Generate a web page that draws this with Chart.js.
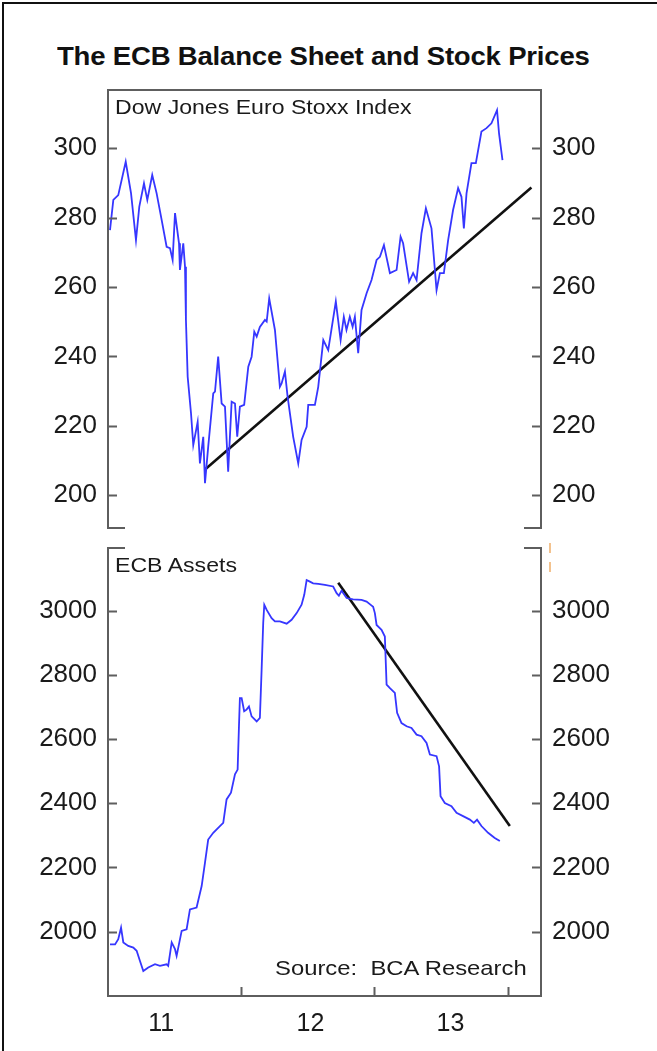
<!DOCTYPE html>
<html>
<head>
<meta charset="utf-8">
<script src="https://cdn.jsdelivr.net/npm/chart.js@4.4.1/dist/chart.umd.min.js"></script>
<style>
  html, body { margin: 0; padding: 0; background: #fff; width: 657px; height: 1051px; overflow: hidden; }
  #wrap { position: relative; width: 657px; height: 1051px; font-family: "Liberation Sans", Arial, sans-serif; }
  #outer { position: absolute; left: 2px; top: 2px; width: 700px; height: 1100px; border: 2px solid #111; }
  canvas { position: absolute; left: 0; }
  .txt { position: absolute; white-space: nowrap; color: #1a1a1a; transform-origin: left center; }
  #title { left: 57px; top: 41px; font-size: 26px; font-weight: bold; color: #111; transform: scaleX(1.06); letter-spacing: -0.2px; }
  #lab1 { left: 115px; top: 95px; font-size: 21px; transform: scaleX(1.1); }
  #lab2 { left: 115px; top: 553px; font-size: 21px; transform: scaleX(1.1); }
  #src { left: 275px; top: 956px; font-size: 21px; transform: scaleX(1.135); }
  .orange { position: absolute; left: 549px; width: 2px; height: 10px; background: #f3c28e; }
</style>
</head>
<body>
<div id="wrap">
  <div id="outer"></div>
  <canvas id="c1" width="657" height="470" style="top:80px"></canvas>
  <canvas id="c2" width="657" height="513" style="top:538px"></canvas>
  <div class="txt" id="title">The ECB Balance Sheet and Stock Prices</div>
  <div class="txt" id="lab1">Dow Jones Euro Stoxx Index</div>
  <div class="txt" id="lab2">ECB Assets</div>
  <div class="txt" id="src">Source:&nbsp; BCA Research</div>
  <div class="orange" style="top:543px"></div>
  <div class="orange" style="top:562px"></div>
</div>
<script>
// ---------- DATA ----------
const stoxxDates = [2011.015,2011.040,2011.077,2011.133,2011.173,2011.210,2011.235,2011.270,2011.295,2011.332,2011.365,2011.403,2011.440,2011.465,2011.485,2011.503,2011.533,2011.540,2011.565,2011.578,2011.585,2011.598,2011.623,2011.640,2011.673,2011.690,2011.715,2011.728,2011.752,2011.790,2011.803,2011.827,2011.853,2011.878,2011.902,2011.928,2011.953,2011.970,2011.990,2012.022,2012.053,2012.078,2012.098,2012.116,2012.140,2012.178,2012.191,2012.210,2012.253,2012.290,2012.303,2012.328,2012.348,2012.390,2012.428,2012.453,2012.491,2012.503,2012.553,2012.578,2012.616,2012.653,2012.710,2012.746,2012.770,2012.790,2012.815,2012.836,2012.853,2012.878,2012.903,2012.941,2012.978,2013.016,2013.041,2013.071,2013.116,2013.166,2013.196,2013.215,2013.260,2013.290,2013.316,2013.353,2013.386,2013.428,2013.466,2013.491,2013.521,2013.553,2013.590,2013.628,2013.653,2013.671,2013.691,2013.728,2013.761,2013.803,2013.841,2013.878,2013.920,2013.935,2013.961];
const stoxxValues = [276.4,285.1,286.5,296.1,287,273.5,283.2,289.9,285.1,292.3,287,279.3,271.6,271.2,267.8,281.3,272.6,264.9,272.6,265.8,250.5,234.1,223.6,214.4,221.1,209.1,216.8,203.4,213.9,229.3,229.8,239.9,226.4,225.5,206.7,226.9,226.4,216.8,225.5,226,237,239.9,247.1,245.7,248.5,250.5,250,256.7,247.6,231.2,232.2,235.6,228.4,216.8,209.1,215.9,219.7,226,226,231.2,244.7,241.8,255.8,244.7,251.4,247.6,251.4,248.5,251.4,240.9,253.4,258.2,262,267.8,268.7,272.1,264,264.9,274.5,272.6,261.5,264,262,275.5,282.7,276.9,259.1,264,264,273.5,282.2,288.5,286,276.9,287,295.7,295.7,304.8,305.8,307.2,311,304.3,296.6];
const stoxxTrendDates = [2011.728, 2014.178];
const stoxxTrendValues = [207.4, 288.7];

const assetDates = [2011.015,2011.053,2011.077,2011.098,2011.115,2011.152,2011.190,2011.215,2011.240,2011.265,2011.302,2011.353,2011.390,2011.440,2011.452,2011.478,2011.503,2011.515,2011.553,2011.590,2011.615,2011.665,2011.703,2011.728,2011.752,2011.790,2011.840,2011.865,2011.890,2011.923,2011.953,2011.973,2011.983,2011.990,2012.003,2012.022,2012.040,2012.058,2012.078,2012.116,2012.140,2012.153,2012.165,2012.173,2012.191,2012.228,2012.253,2012.290,2012.341,2012.378,2012.416,2012.453,2012.473,2012.491,2012.515,2012.540,2012.578,2012.628,2012.690,2012.716,2012.733,2012.753,2012.791,2012.840,2012.903,2012.941,2012.965,2012.990,2013.003,2013.016,2013.053,2013.078,2013.091,2013.116,2013.153,2013.170,2013.203,2013.241,2013.278,2013.316,2013.353,2013.391,2013.416,2013.466,2013.485,2013.496,2013.528,2013.578,2013.616,2013.665,2013.716,2013.746,2013.770,2013.803,2013.853,2013.903,2013.941];
const assetValues = [1960,1960,1976,2012,1966,1955,1950,1940,1908,1877,1888,1898,1893,1898,1893,1966,1945,1924,2002,2007,2069,2075,2142,2215,2287,2308,2329,2339,2412,2433,2490,2505,2640,2728,2728,2687,2692,2702,2671,2655,2666,2816,2962,3019,3003,2977,2967,2967,2960,2972,2993,3019,3050,3096,3091,3086,3084,3081,3076,3055,3047,3063,3040,3036,3034,3029,3021,3013,2993,2956,2941,2920,2770,2759,2744,2682,2650,2640,2635,2614,2609,2588,2552,2547,2515,2422,2401,2391,2370,2360,2349,2339,2349,2329,2308,2292,2282];
const assetTrendDates = [2012.728, 2014.016];
const assetTrendValues = [3088, 2329];

const yTicksTop = [200, 220, 240, 260, 280, 300];
const yTicksBottom = [2000, 2200, 2400, 2600, 2800, 3000];
const xTickLabels = ['11', '12', '13'];
const yearMarks = [2012, 2013, 2014];

// ---------- helpers ----------
const pts = (xs, ys) => xs.map((x, i) => ({x: x, y: ys[i]}));
const FONT = '"Liberation Sans", Arial, sans-serif';
const FRAME = '#5e5e5e';

const framePlugin = {
  id: 'frame',
  afterDraw(chart, args, opts) {
    const {ctx, chartArea: a} = chart;
    const L = a.left, R = a.right, T = a.top, B = a.bottom;
    const br = 17, tl = 9;
    ctx.save();
    ctx.strokeStyle = FRAME;
    ctx.lineWidth = 2;
    ctx.lineCap = 'butt';
    ctx.beginPath();
    ctx.moveTo(L, T - 1); ctx.lineTo(L, B + 1);
    ctx.moveTo(R, T - 1); ctx.lineTo(R, B + 1);
    if (opts.top === 'full') { ctx.moveTo(L - 1, T); ctx.lineTo(R + 1, T); }
    else { ctx.moveTo(L - 1, T); ctx.lineTo(L + br, T); ctx.moveTo(R - br, T); ctx.lineTo(R + 1, T); }
    if (opts.bottom === 'full') { ctx.moveTo(L - 1, B); ctx.lineTo(R + 1, B); }
    else { ctx.moveTo(L - 1, B); ctx.lineTo(L + br, B); ctx.moveTo(R - br, B); ctx.lineTo(R + 1, B); }
    ctx.stroke();
    const ys = chart.scales.y;
    ctx.beginPath();
    ys.ticks.forEach(t => {
      const py = Math.round(ys.getPixelForValue(t.value)) + 0.5;
      ctx.moveTo(L, py); ctx.lineTo(L + tl, py);
      ctx.moveTo(R - tl, py); ctx.lineTo(R, py);
    });
    if (opts.xMarks) {
      const xs = chart.scales.x;
      opts.xMarks.forEach(v => {
        const px = Math.round(xs.getPixelForValue(v)) + 0.5;
        ctx.moveTo(px, B); ctx.lineTo(px, B - tl);
      });
    }
    ctx.stroke();
    ctx.restore();
  }
};

function yAxis(pos, min, max, ticks, width) {
  return {
    type: 'linear', position: pos, min: min, max: max,
    grid: { display: false, drawTicks: false },
    border: { display: false },
    ticks: { padding: 11, color: '#1a1a1a', font: { family: FONT, size: 26 }, callback: v => String(v) },
    afterBuildTicks: s => { s.ticks = ticks.map(v => ({value: v})); },
    afterFit: s => { s.width = width; s.paddingTop = 0; s.paddingBottom = 0; }
  };
}

function lineDs(data, color, w, axis) {
  return { data: data, borderColor: color, borderWidth: w, pointRadius: 0, tension: 0, fill: false, yAxisID: axis };
}

// ---------- top chart ----------
new Chart(document.getElementById('c1'), {
  type: 'line',
  data: { datasets: [
    lineDs(pts(stoxxDates, stoxxValues), '#3636ff', 1.8, 'y'),
    lineDs(pts(stoxxTrendDates, stoxxTrendValues), '#111', 2.6, 'y')
  ]},
  options: {
    responsive: false, animation: false, events: [],
    layout: { padding: { top: 10, bottom: 22, left: 0, right: 0 } },
    plugins: { legend: { display: false }, tooltip: { enabled: false },
      frame: { top: 'full', bottom: 'bracket' } },
    scales: {
      x: { type: 'linear', min: 2011, max: 2014.25, display: false },
      y: yAxis('left', 190.5, 316.8, yTicksTop, 108),
      y2: yAxis('right', 190.5, 316.8, yTicksTop, 116)
    }
  },
  plugins: [framePlugin]
});

// ---------- bottom chart ----------
const xLabelAt = [2011.40, 2012.52, 2013.57];
new Chart(document.getElementById('c2'), {
  type: 'line',
  data: { datasets: [
    lineDs(pts(assetDates, assetValues), '#3636ff', 1.8, 'y'),
    lineDs(pts(assetTrendDates, assetTrendValues), '#111', 2.6, 'y')
  ]},
  options: {
    responsive: false, animation: false, events: [],
    layout: { padding: { top: 10, bottom: 0, left: 0, right: 0 } },
    plugins: { legend: { display: false }, tooltip: { enabled: false },
      frame: { top: 'bracket', bottom: 'full', xMarks: yearMarks } },
    scales: {
      x: {
        type: 'linear', min: 2011, max: 2014.25,
        grid: { display: false, drawTicks: false }, border: { display: false },
        ticks: { padding: 13, color: '#1a1a1a', font: { family: FONT, size: 25 }, maxRotation: 0,
          callback: (v, i) => xTickLabels[i] },
        afterBuildTicks: s => { s.ticks = xLabelAt.map(v => ({value: v})); },
        afterFit: s => { s.height = 55; s.paddingLeft = 0; s.paddingRight = 0; }
      },
      y: yAxis('left', 1799, 3196, yTicksBottom, 108),
      y2: yAxis('right', 1799, 3196, yTicksBottom, 116)
    }
  },
  plugins: [framePlugin]
});
</script>
</body>
</html>
